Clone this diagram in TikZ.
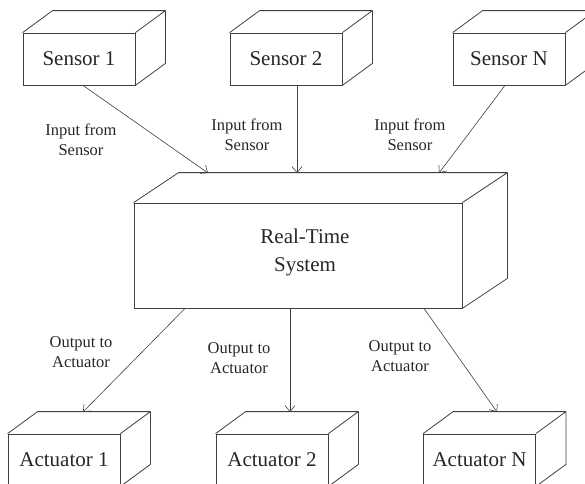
\documentclass[tikz,border=0pt]{standalone}
\usepackage{fontspec}
\setmainfont{Liberation Serif}
\usetikzlibrary{calc,arrows.meta}
\newcommand\depthbox[3]{%
  \draw[edgethreed] (#1.north west) -- ++(#2,#3) -- ($(#1.north east)+(#2,#3)$)
    -- ($(#1.south east)+(#2,#3)$) -- (#1.south east)
    (#1.north east) -- ++(#2,#3);}
\begin{document}
\begin{tikzpicture}[x=1pt,y=-1pt,
  box/.style={draw=black!75, line width=0.8pt, minimum width=112pt, minimum height=52pt,
    inner sep=0pt, font=\fontsize{21}{24}\selectfont, text=black!85},
  bigbox/.style={box, minimum width=328pt, minimum height=105pt},
  lbl/.style={font=\fontsize{16.5}{20}\selectfont, align=center, text=black!85, inner sep=0pt},
  biglbl/.style={font=\fontsize{21}{28}\selectfont, align=center, text=black!85, inner sep=0pt},
  arr/.style={draw=black!75, line width=0.6pt, -{Straight Barb[length=6pt,width=10pt]}},
  edgethreed/.style={draw=black!75, line width=0.8pt, line join=round}]
\useasboundingbox (0,0) rectangle (585,483);
\clip (0,0) rectangle (585,483);

% sensors
\node[box] (s1) at (79,59) {Sensor 1};
\node[box] (s2) at (286,59) {Sensor 2};
\node[box] (sn) at (509,59) {Sensor N};
\depthbox{s1}{30}{-22}
\depthbox{s2}{30}{-22}
\depthbox{sn}{30}{-22}

% real-time system
\node[bigbox] (rts) at (298,255.5) {};
\depthbox{rts}{45}{-30}
\node[biglbl] (rtslabel) at (305,252) {Real-Time\\System};

% actuators
\node[box] (a1) at (64,460) {Actuator 1};
\node[box] (a2) at (272,460) {Actuator 2};
\node[box] (an) at (479.5,460) {Actuator N};
\depthbox{a1}{30}{-22}
\depthbox{a2}{30}{-22}
\depthbox{an}{30}{-22}

% connector ends on the 3D edges
\coordinate (in1) at (208,173);
\coordinate (in2) at (297,173);
\coordinate (in3) at (439,173);
\coordinate (out1) at (83,412);
\coordinate (out2) at (290,412);
\coordinate (out3) at (497,412);

\draw[arr] ([xshift=4pt]s1.south) -- (in1);
\draw[arr] ([xshift=11pt]s2.south) -- (in2);
\draw[arr] ([xshift=-4pt]sn.south) -- (in3);
\draw[arr] ([xshift=-113pt]rts.south) -- (out1);
\draw[arr] ([xshift=-8pt]rts.south) -- (out2);
\draw[arr] ([xshift=126pt]rts.south) -- (out3);

% labels
\node[lbl] (li1) at (81,140) {Input from\\Sensor};
\node[lbl] (li2) at (247,135) {Input from\\Sensor};
\node[lbl] (li3) at (410,135) {Input from\\Sensor};
\node[lbl] (lo1) at (81,352) {Output to\\Actuator};
\node[lbl] (lo2) at (239,358) {Output to\\Actuator};
\node[lbl] (lo3) at (400,356) {Output to\\Actuator};
\end{tikzpicture}
\end{document}
